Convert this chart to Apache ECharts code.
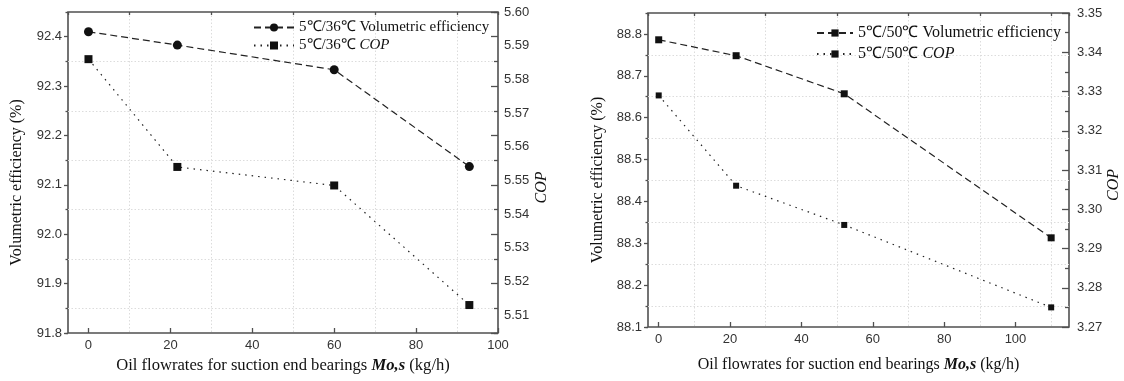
<!DOCTYPE html>
<html>
<head>
<meta charset="utf-8">
<script src="https://cdn.jsdelivr.net/npm/echarts@6/dist/echarts.min.js"></script>
<style>
html,body{margin:0;padding:0;background:#fff;}
#c{width:1124px;height:381px;}
</style>
</head>
<body>
<div id="c"></div>
<script>
// ---- data ----
const xLeft = [0, 21.7, 60, 93];
const volEffLeft = [92.41, 92.383, 92.333, 92.137];
const copLeft = [5.586, 5.554, 5.5485, 5.513];
const xRight = [0, 21.7, 52, 110];
const volEffRight = [88.786, 88.748, 88.657, 88.313];
const copRight = [3.329, 3.306, 3.296, 3.275];
const nameVolLeft = '5\u2103/36\u2103 Volumetric efficiency';
const nameCopLeft = '5\u2103/36\u2103 COP';
const nameVolRight = '5\u2103/50\u2103 Volumetric efficiency';
const nameCopRight = '5\u2103/50\u2103 COP';
const xTitle = 'Oil flowrates for suction end bearings {b|Mo,s} (kg/h)';
const yTitle = 'Volumetric efficiency (%)';
const y2Title = 'COP';

const SERIF = "'Liberation Serif','Times New Roman',serif";
const SANS = "'Liberation Sans',Arial,sans-serif";
const pair = (xs, ys) => xs.map((x, i) => [x, ys[i]]);

const frame = '#505050';
const lab = (m, fmt) => ({show: true, margin: m, color: '#333', fontFamily: SANS, fontSize: 13, formatter: fmt});
const noLab = {show: false};
const gridLine = {show: true, showMinLine: false, showMaxLine: false,
  lineStyle: {color: '#dcdcdc', type: [1.5, 2], width: 1}};
const tick = (inside, len) => ({show: true, inside: inside, length: len, lineStyle: {color: frame, width: 1.3}});

const xNameStyle = (fs) => ({
  fontFamily: SERIF, fontSize: fs, color: '#111',
  rich: {b: {fontFamily: SERIF, fontSize: fs, fontWeight: 'bold', fontStyle: 'italic', color: '#111'}}
});
const yNameStyle = (pad) => ({fontFamily: SERIF, fontSize: 16, color: '#111', padding: pad});
const copNameStyle = (pad) => ({fontFamily: SERIF, fontSize: 16, color: '#111', fontStyle: 'italic', padding: pad});

function baseAxis(extra) {
  return Object.assign({
    type: 'value', axisLine: {show: false, onZero: false}, splitLine: {show: false},
    axisTick: {show: false}, axisLabel: noLab
  }, extra);
}

const legendText = (name) => name.replace('COP', '{i|COP}');
const legendStyle = (fs) => ({
  fontFamily: SERIF, fontSize: fs, color: '#111',
  rich: {i: {fontFamily: SERIF, fontSize: fs, fontStyle: 'italic', color: '#111'}}
});

const option = {
  backgroundColor: '#fff',
  animation: false,
  grid: [
    {left: 68, top: 12, width: 430, height: 321, show: true, borderColor: frame, borderWidth: 1.6, backgroundColor: 'transparent'},
    {left: 648, top: 13, width: 421, height: 314, show: true, borderColor: frame, borderWidth: 1.6, backgroundColor: 'transparent'}
  ],
  legend: [
    {orient: 'vertical', left: 253, top: 20, padding: 0, itemWidth: 40, itemHeight: 10, itemGap: 3,
     data: [nameVolLeft, nameCopLeft], formatter: legendText, textStyle: legendStyle(15)},
    {orient: 'vertical', left: 816, top: 25, padding: 0, itemWidth: 36, itemHeight: 9, itemGap: 5,
     data: [nameVolRight, nameCopRight], formatter: legendText, textStyle: legendStyle(16)}
  ],
  xAxis: [
    baseAxis({gridIndex: 0, min: -5, max: 100, axisTick: tick(true, 5),
      axisLabel: Object.assign(lab(6, v => String(v)), {showMinLabel: false, showMaxLabel: true}),
      name: xTitle, nameLocation: 'middle', nameGap: 21, nameTextStyle: xNameStyle(16.6)}),
    baseAxis({gridIndex: 0, min: 5, max: 110, axisTick: tick(true, 3), splitLine: gridLine}),
    baseAxis({gridIndex: 1, min: -3, max: 115, axisTick: tick(true, 5),
      axisLabel: Object.assign(lab(6, v => String(v)), {showMinLabel: false, showMaxLabel: false}),
      name: xTitle, nameLocation: 'middle', nameGap: 30, nameTextStyle: xNameStyle(16)}),
    baseAxis({gridIndex: 1, min: 7, max: 125, axisTick: tick(true, 3), splitLine: gridLine})
  ],
  yAxis: [
    // left chart
    baseAxis({gridIndex: 0, position: 'left', min: 91.8, max: 92.45, interval: 0.1, axisTick: tick(false, 4),
      axisLabel: Object.assign(lab(6, v => v.toFixed(1)), {showMaxLabel: false}),
      name: yTitle, nameLocation: 'middle', nameGap: 43, nameRotate: 90, nameTextStyle: yNameStyle([0, 20, 0, 0])}),
    baseAxis({gridIndex: 0, position: 'left', min: 91.85, max: 92.5, axisTick: tick(false, 2.5), splitLine: gridLine}),
    baseAxis({gridIndex: 0, position: 'right', min: 91.8, max: 92.45, interval: 0.1, axisTick: tick(true, 7)}),
    baseAxis({gridIndex: 0, position: 'right', min: 91.85, max: 92.5, axisTick: tick(true, 4)}),
    baseAxis({gridIndex: 0, position: 'right', min: 5.5047, max: 5.60, splitNumber: 10,
      axisLabel: Object.assign(lab(6, v => v.toFixed(2)), {showMinLabel: false}),
      name: y2Title, nameLocation: 'middle', nameGap: 36, nameRotate: 90, nameTextStyle: copNameStyle([0, 30, 0, 0])}),
    // right chart
    baseAxis({gridIndex: 1, position: 'left', min: 88.1, max: 88.85, interval: 0.1, axisTick: tick(false, 4),
      axisLabel: Object.assign(lab(6, v => v.toFixed(1)), {showMaxLabel: false}),
      name: yTitle, nameLocation: 'middle', nameGap: 42, nameRotate: 90, nameTextStyle: yNameStyle([0, 20, 0, 0])}),
    baseAxis({gridIndex: 1, position: 'left', min: 88.15, max: 88.9, splitNumber: 7, axisTick: tick(false, 2.5), splitLine: gridLine}),
    baseAxis({gridIndex: 1, position: 'right', min: 3.27, max: 3.35, interval: 0.01, axisTick: tick(true, 7),
      minorTick: {show: true, splitNumber: 2, length: 4, lineStyle: {color: frame, width: 1.3}},
      axisLabel: lab(8, v => v.toFixed(2)),
      name: y2Title, nameLocation: 'middle', nameGap: 35, nameRotate: 90, nameTextStyle: copNameStyle([0, 30, 0, 0])})
  ],
  series: [
    {name: nameVolLeft, type: 'line', xAxisIndex: 0, yAxisIndex: 0, data: pair(xLeft, volEffLeft),
     symbol: 'circle', symbolSize: 9, itemStyle: {color: '#111'},
     lineStyle: {color: '#222', width: 1.2, type: [7, 4]}},
    {name: nameCopLeft, type: 'line', xAxisIndex: 0, yAxisIndex: 4, data: pair(xLeft, copLeft),
     symbol: 'rect', symbolSize: 8, itemStyle: {color: '#111'},
     lineStyle: {color: '#222', width: 1.2, type: [1.5, 5]}},
    {name: nameVolRight, type: 'line', xAxisIndex: 2, yAxisIndex: 5, data: pair(xRight, volEffRight),
     symbol: 'rect', symbolSize: 7, itemStyle: {color: '#111'},
     lineStyle: {color: '#222', width: 1.2, type: [7, 4]}},
    {name: nameCopRight, type: 'line', xAxisIndex: 2, yAxisIndex: 7, data: pair(xRight, copRight),
     symbol: 'rect', symbolSize: 6, itemStyle: {color: '#111'},
     lineStyle: {color: '#222', width: 1.2, type: [1.5, 5]}}
  ]
};

const chart = echarts.init(document.getElementById('c'), null, {renderer: 'canvas'});
chart.setOption(option);
</script>
</body>
</html>
